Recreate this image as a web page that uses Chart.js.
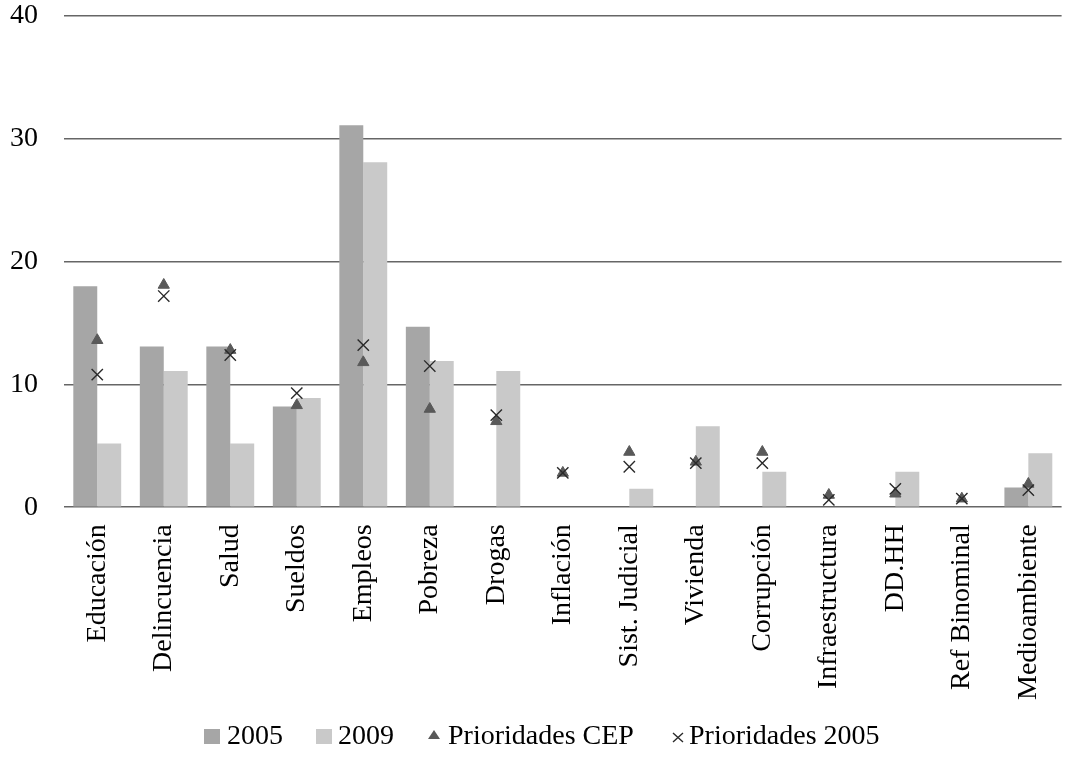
<!DOCTYPE html>
<html>
<head>
<meta charset="utf-8">
<script src="https://cdn.jsdelivr.net/npm/chart.js@4/dist/chart.umd.min.js"></script>
<style>
html,body{margin:0;padding:0;background:#fff;}
#wrap{width:1071px;height:759px;}
</style>
</head>
<body>
<div id="wrap"><canvas id="c"></canvas></div>
<script>
const categories = ["Educación","Delincuencia","Salud","Sueldos","Empleos","Pobreza","Drogas","Inflación","Sist. Judicial","Vivienda","Corrupción","Infraestructura","DD.HH","Ref Binominal","Medioambiente"];
const values2005 = [18.0, 13.1, 13.1, 8.2, 31.1, 14.7, null, null, null, null, null, null, null, null, 1.6];
const values2009 = [5.2, 11.1, 5.2, 8.9, 28.1, 11.9, 11.1, null, 1.5, 6.6, 2.9, null, 2.9, null, 4.4];
const prioridadesCEP = [13.6, 18.1, 12.8, 8.3, 11.8, 8.0, 7.0, 2.8, 4.5, 3.7, 4.5, 1.0, 1.1, 0.7, 1.9];
const prioridades2005 = [10.8, 17.2, 12.4, 9.3, 13.2, 11.5, 7.5, 2.8, 3.3, 3.6, 3.6, 0.6, 1.5, 0.7, 1.4];
const yTicks = [0, 10, 20, 30, 40];

const FONT = "'Liberation Serif', 'DejaVu Serif', serif";
const FS = 28;
Chart.defaults.font.family = FONT;
Chart.defaults.color = "#000";

const C2005 = '#a6a6a6', C2009 = '#c9c9c9', CTRI = '#595959', CX = '#2a2a2a';

// Legend drawn on the canvas, below the axis labels (style/position only)
const legendItems = [
  {kind:'rect', color:C2005, iconX:204, textX:227},
  {kind:'rect', color:C2009, iconX:316, textX:338},
  {kind:'tri',  color:CTRI,  iconX:428, textX:448},
  {kind:'x',    color:CX,    iconX:672, textX:689}
];
const legendPlugin = {
  id: 'customLegend',
  afterDraw(chart) {
    const ctx = chart.ctx;
    const yc = 737;
    ctx.save();
    ctx.font = FS + 'px ' + FONT;
    ctx.textBaseline = 'middle';
    ctx.fillStyle = '#000';
    chart.data.datasets.forEach((ds, i) => {
      const it = legendItems[i];
      if (it.kind === 'rect') {
        ctx.fillStyle = it.color; ctx.fillRect(it.iconX, yc - 8, 16, 15);
      } else if (it.kind === 'tri') {
        ctx.fillStyle = it.color; ctx.beginPath();
        ctx.moveTo(it.iconX + 6, yc - 7); ctx.lineTo(it.iconX + 12, yc + 2); ctx.lineTo(it.iconX, yc + 2); ctx.closePath(); ctx.fill();
      } else {
        ctx.strokeStyle = it.color; ctx.lineWidth = 1.4; ctx.beginPath();
        ctx.moveTo(it.iconX + 1, yc - 4); ctx.lineTo(it.iconX + 11, yc + 5);
        ctx.moveTo(it.iconX + 11, yc - 4); ctx.lineTo(it.iconX + 1, yc + 5); ctx.stroke();
      }
      ctx.fillStyle = '#000';
      ctx.fillText(ds.label, it.textX, yc);
    });
    ctx.restore();
  }
};

new Chart(document.getElementById('c'), {
  data: {
    labels: categories,
    datasets: [
      {type:'bar', label:'2005', data: values2005, backgroundColor:C2005, order:3},
      {type:'bar', label:'2009', data: values2009, backgroundColor:C2009, order:3},
      {type:'line', label:'Prioridades CEP', data: prioridadesCEP, showLine:false, pointStyle:'triangle', pointRadius:6.5, pointBackgroundColor:CTRI, pointBorderColor:CTRI, backgroundColor:CTRI, borderColor:CTRI, pointBorderWidth:1, order:2},
      {type:'line', label:'Prioridades 2005', data: prioridades2005, showLine:false, pointStyle:'crossRot', pointRadius:8, pointBorderColor:CX, borderColor:CX, backgroundColor:CX, pointBorderWidth:1.4, order:1}
    ]
  },
  plugins:[legendPlugin],
  options: {
    responsive:true, maintainAspectRatio:false, animation:false,
    layout:{padding:{top:0, right:9, left:0, bottom:42}},
    datasets:{bar:{categoryPercentage:0.72, barPercentage:1.0}},
    plugins:{
      legend:{display:false},
      tooltip:{enabled:false}
    },
    scales:{
      x:{
        grid:{display:false, drawTicks:false},
        border:{display:false},
        ticks:{maxRotation:90, minRotation:90, autoSkip:false, font:{size:FS, family:FONT}, color:'#000', padding:17},
        afterFit: (s) => { s.paddingLeft = 0; s.paddingRight = 0; }
      },
      y:{
        min:0, max:40,
        afterBuildTicks: (axis) => { axis.ticks = yTicks.map(v => ({value:v})); },
        grid:{color:'#666', lineWidth:1.6, drawTicks:false},
        border:{display:false},
        ticks:{font:{size:FS, family:FONT}, color:'#000', padding:26},
        afterFit: (s) => { s.width = 64; s.paddingTop = 16; s.paddingBottom = 0; }
      }
    }
  }
});
</script>
</body>
</html>
